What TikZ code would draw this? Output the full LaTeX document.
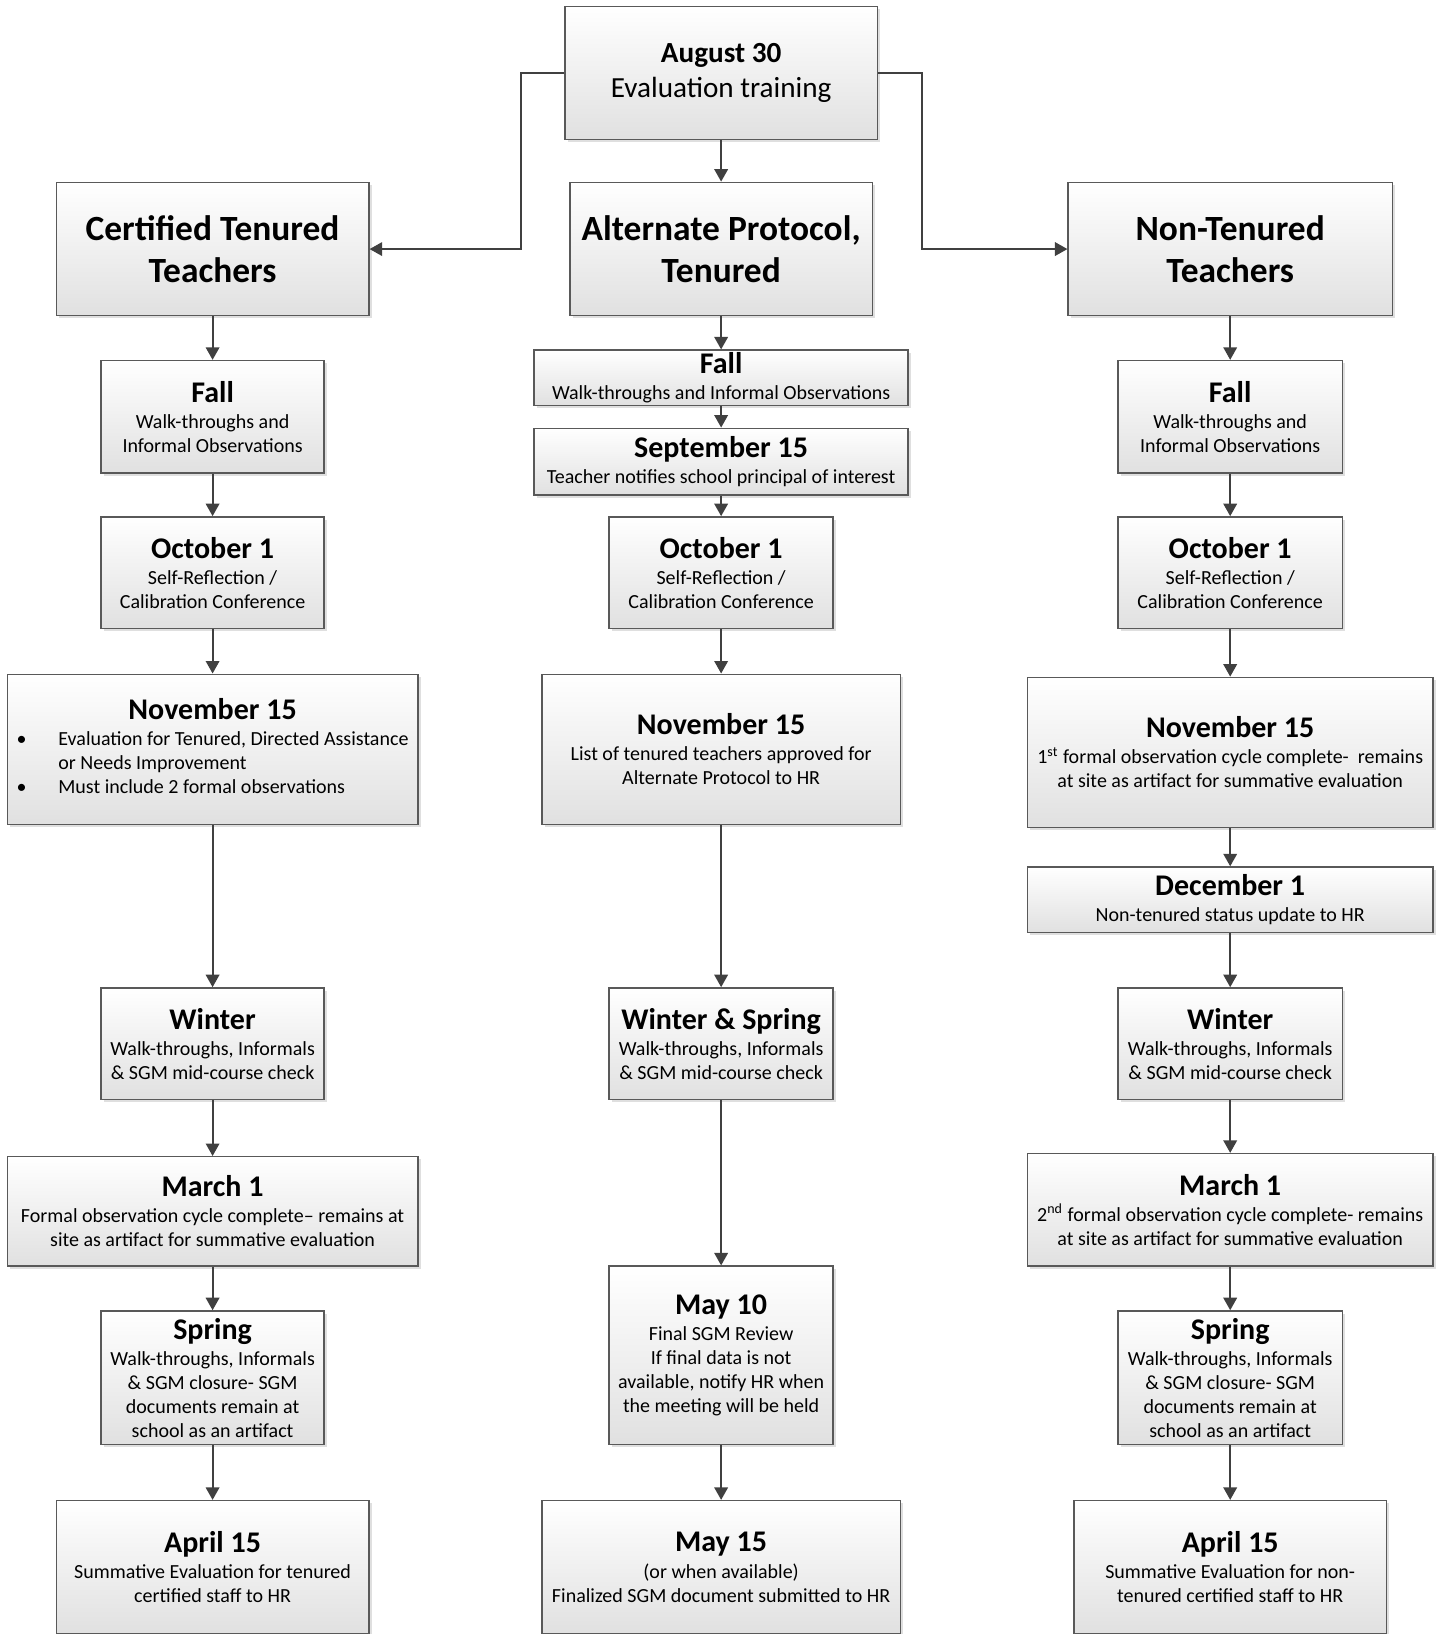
\documentclass[tikz,border=0pt]{standalone}
\usepackage{fontspec}
\setmainfont{Carlito}
\usetikzlibrary{arrows.meta,shadows}
\newcommand\ttl[2][1pt]{{\fontsize{14.4}{16}\selectfont\bfseries #2}\\[#1]}
\begin{document}
\begin{tikzpicture}[x=0.5pt,y=-0.5pt,
    box/.style={draw=black!65,line width=0.7pt,top color=white,bottom color=black!12,
      drop shadow={shadow xshift=1.3pt,shadow yshift=-1.3pt,fill=black!25,opacity=0.5},
      inner sep=0pt,align=center,font=\fontsize{9.6}{11.5}\selectfont},
    boxsize/.style args={#1/#2}{minimum width=#1*0.5pt,minimum height=#2*0.5pt},
    head/.style={font=\fontsize{17}{20}\selectfont\bfseries},
    arr/.style={draw=black!75,line width=0.9pt,-{Triangle[width=6.5pt,length=6pt]}}]
  \useasboundingbox (0,0) rectangle (1384,1568);
  \node[box,boxsize=300/128,font=\fontsize{14}{17}\selectfont] (aug) at (692,70) {\textbf{August 30}\\Evaluation training};
  \node[box,head,boxsize=300/128] (cert) at (204,239) {Certified Tenured\\Teachers};
  \node[box,head,boxsize=290/128] (alt) at (692,239) {Alternate Protocol,\\Tenured};
  \node[box,head,boxsize=311/128] (nont) at (1180.5,239) {Non-Tenured\\Teachers};

  \node[box,boxsize=214/108] (cfall) at (204,400) {\ttl{Fall}Walk-throughs and\\Informal Observations};
  \node[box,boxsize=214/107] (coct) at (204,549.5) {\ttl{October 1}Self-Reflection /\\Calibration Conference};
  \node[box,boxsize=394/144] (cnov) at (204,719) {\ttl[3.5pt]{November 15}\begin{tabular}{@{}l@{}}
      \makebox[20pt][l]{\textbullet}Evaluation for Tenured, Directed Assistance\\
      \hspace*{20pt}or Needs Improvement\\
      \makebox[20pt][l]{\textbullet}Must include 2 formal observations\end{tabular}};
  \node[box,boxsize=214/107] (cwin) at (204,1001.5) {\ttl{Winter}Walk-throughs, Informals\\\& SGM mid-course check};
  \node[box,boxsize=394/105] (cmar) at (204,1162.5) {\ttl{March 1}Formal observation cycle complete-- remains at\\site as artifact for summative evaluation};
  \node[box,boxsize=214/128] (cspr) at (204,1322) {\ttl{Spring}Walk-throughs, Informals\\\& SGM closure- SGM\\documents remain at\\school as an artifact};
  \node[box,boxsize=300/128] (capr) at (204,1504) {\ttl{April 15}Summative Evaluation for tenured\\certified staff to HR};

  \node[box,boxsize=359/53] (afall) at (692,362.5) {\ttl{Fall}Walk-throughs and Informal Observations};
  \node[box,boxsize=359/64] (asep) at (692,443) {\ttl{September 15}Teacher notifies school principal of interest};
  \node[box,boxsize=215/107] (aoct) at (692,549.5) {\ttl{October 1}Self-Reflection /\\Calibration Conference};
  \node[box,boxsize=344/144] (anov) at (692,719) {\ttl{November 15}List of tenured teachers approved for\\Alternate Protocol to HR};
  \node[box,boxsize=215/107] (awin) at (692,1001.5) {\ttl{Winter \& Spring}Walk-throughs, Informals\\\& SGM mid-course check};
  \node[box,boxsize=215/171] (amay) at (692,1300.5) {\ttl{May 10}Final SGM Review\\If final data is not\\available, notify HR when\\the meeting will be held};
  \node[box,boxsize=344/128] (amayf) at (692,1504) {\ttl{May 15}(or when available)\\Finalized SGM document submitted to HR};

  \node[box,boxsize=215/108] (nfall) at (1180.5,400) {\ttl{Fall}Walk-throughs and\\Informal Observations};
  \node[box,boxsize=215/107] (noct) at (1180.5,549.5) {\ttl{October 1}Self-Reflection /\\Calibration Conference};
  \node[box,boxsize=389/144] (nnov) at (1180.5,722) {\ttl{November 15}1\textsuperscript{st} formal observation cycle complete-~ remains\\at site as artifact for summative evaluation};
  \node[box,boxsize=389/63] (ndec) at (1180.5,863.5) {\ttl{December 1}Non-tenured status update to HR};
  \node[box,boxsize=215/107] (nwin) at (1180.5,1001.5) {\ttl{Winter}Walk-throughs, Informals\\\& SGM mid-course check};
  \node[box,boxsize=389/108] (nmar) at (1180.5,1161) {\ttl{March 1}2\textsuperscript{nd} formal observation cycle complete- remains\\at site as artifact for summative evaluation};
  \node[box,boxsize=215/128] (nspr) at (1180.5,1322) {\ttl{Spring}Walk-throughs, Informals\\\& SGM closure- SGM\\documents remain at\\school as an artifact};
  \node[box,boxsize=300/128] (napr) at (1180.5,1504) {\ttl{April 15}Summative Evaluation for non-\\tenured certified staff to HR};

  \draw[arr] (aug.west) -- (500,70) |- (cert.east);
  \draw[arr] (aug.east) -- (885,70) |- (nont.west);
  \draw[arr] (aug) -- (alt);
  \draw[arr] (cert) -- (cfall); \draw[arr] (cfall) -- (coct); \draw[arr] (coct) -- (cnov);
  \draw[arr] (cnov) -- (cwin); \draw[arr] (cwin) -- (cmar); \draw[arr] (cmar) -- (cspr);
  \draw[arr] (cspr) -- (capr);
  \draw[arr] (alt) -- (afall); \draw[arr] (afall) -- (asep); \draw[arr] (asep) -- (aoct);
  \draw[arr] (aoct) -- (anov); \draw[arr] (anov) -- (awin); \draw[arr] (awin) -- (amay);
  \draw[arr] (amay) -- (amayf);
  \draw[arr] (nont) -- (nfall); \draw[arr] (nfall) -- (noct); \draw[arr] (noct) -- (nnov);
  \draw[arr] (nnov) -- (ndec); \draw[arr] (ndec) -- (nwin); \draw[arr] (nwin) -- (nmar);
  \draw[arr] (nmar) -- (nspr); \draw[arr] (nspr) -- (napr);
\end{tikzpicture}
\end{document}
